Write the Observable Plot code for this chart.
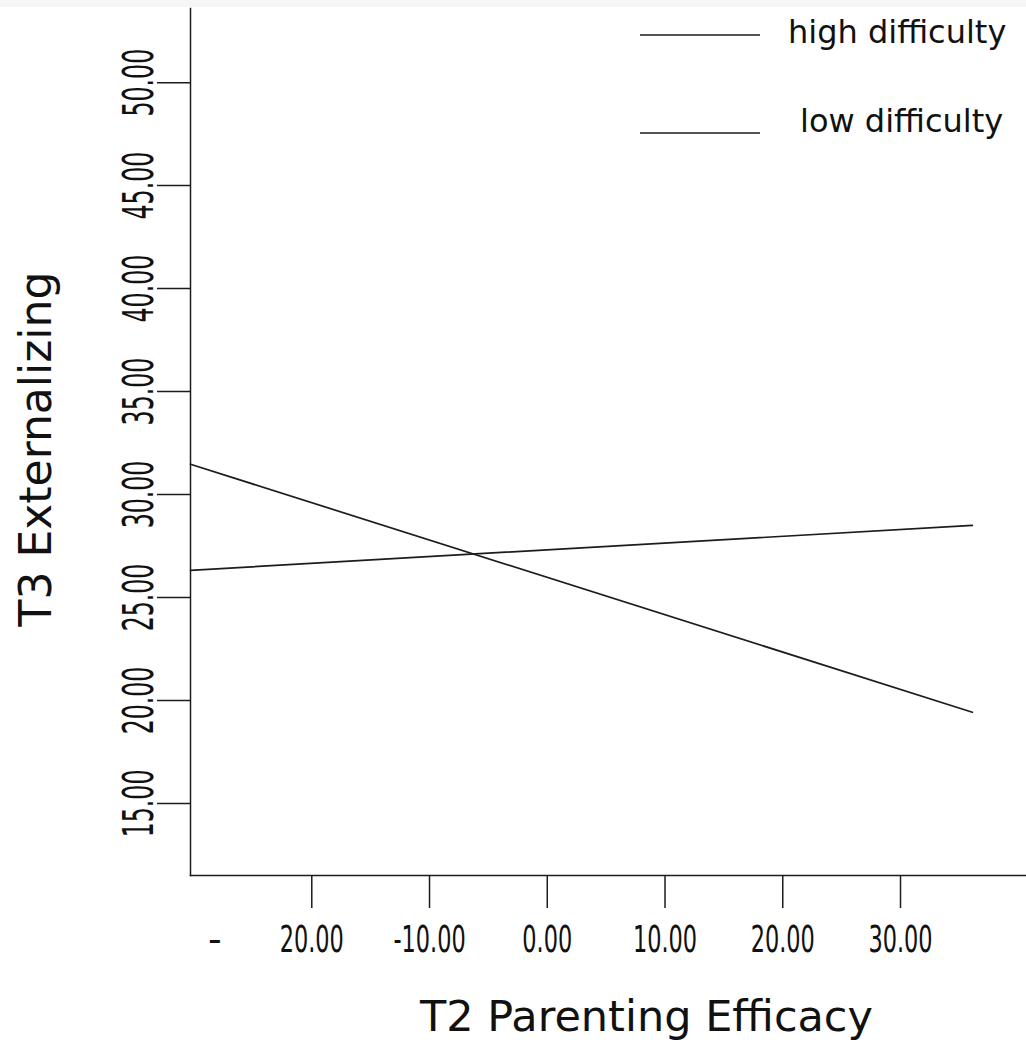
<!DOCTYPE html>
<html>
<head>
<meta charset="utf-8">
<script src="https://cdn.jsdelivr.net/npm/d3@7"></script>
<script src="https://cdn.jsdelivr.net/npm/@observablehq/plot@0.6"></script>
<style>
  html, body { margin: 0; padding: 0; background: #ffffff; }
  #topband { height: 7px; background: #f6f6f6; }
  #chart { position: relative; width: 1026px; }
</style>
</head>
<body>
<div id="topband"></div>
<div id="chart"></div>
<script>
// ---- data ----
const seriesNames = ["high difficulty", "low difficulty"];
const xValues = [-30.3, 36.1];              // T2 Parenting Efficacy (line endpoints)
const highDifficulty = [31.47, 19.43];      // T3 Externalizing
const lowDifficulty = [26.32, 28.50];
const xTicks = [-20, -10, 0, 10, 20, 30];
const yTicks = [15, 20, 25, 30, 35, 40, 45, 50];
const xTitle = "T2 Parenting Efficacy";
const yTitle = "T3 Externalizing";

const table = [];
[highDifficulty, lowDifficulty].forEach((vals, i) => {
  vals.forEach((v, j) => table.push({series: seriesNames[i], x: xValues[j], y: v}));
});

const ink = "#1c1c1c";

const plot = Plot.plot({
  width: 1026,
  height: 1035,
  marginTop: 1,
  marginLeft: 190,
  marginRight: 0,
  marginBottom: 167,
  style: {fontFamily: "DejaVu Sans", color: "#111", background: "white", overflow: "visible"},
  x: {domain: [-30.3, 40.7]},
  y: {domain: [11.5, 53.6]},
  marks: [
    Plot.frame({anchor: "left", stroke: ink, strokeWidth: 1.5}),
    Plot.frame({anchor: "bottom", stroke: ink, strokeWidth: 1.5}),
    Plot.axisY(yTicks, {
      tickSize: 33, tickPadding: 5, tickRotate: -90, fontSize: 43,
      strokeWidth: 1.5, stroke: ink, fill: "#111",
      tickFormat: d => d.toFixed(2), label: null
    }),
    Plot.axisX(xTicks, {
      tickSize: 33, tickPadding: 17, fontSize: 38,
      strokeWidth: 1.5, stroke: ink, fill: "#111",
      tickFormat: d => Math.abs(d) === 20 ? "20.00" : d.toFixed(2), label: null
    }),
    // detached minus sign of the -20 label
    Plot.text([xTicks[0]], {
      x: d => d, frameAnchor: "bottom", text: () => "-", fontSize: 38,
      lineAnchor: "top", dy: 50, dx: -97, fill: "#111"
    }),
    Plot.line(table, {x: "x", y: "y", z: "series", stroke: ink, strokeWidth: 1.7}),
    Plot.text([xTitle], {
      frameAnchor: "bottom", textAnchor: "middle", text: d => d, fontSize: 43,
      lineAnchor: "bottom", dy: 155, dx: 38, fill: "#111"
    }),
    Plot.text([yTitle], {
      frameAnchor: "left", textAnchor: "middle", text: d => d, fontSize: 44, rotate: -90,
      lineAnchor: "bottom", dx: -140, dy: 7, fill: "#111"
    })
  ]
});

document.getElementById("chart").appendChild(plot);

// condensed tick labels (narrow print style)
function squeeze(selector, ratio) {
  plot.querySelectorAll(selector).forEach(t => {
    const len = t.getComputedTextLength();
    if (len > 0) {
      t.setAttribute("textLength", (len * ratio).toFixed(1));
      t.setAttribute("lengthAdjust", "spacingAndGlyphs");
    }
  });
}
squeeze('g[aria-label="y-axis tick label"] text', 0.55);
squeeze('g[aria-label="x-axis tick label"] text', 0.59);

// legend inside the plot area, top right
const svg = d3.select(plot);
const legend = svg.append("g")
  .attr("font-family", "DejaVu Sans").attr("font-size", 32)
  .attr("text-anchor", "start").attr("fill", "#111");
const legendRows = [
  {name: seriesNames[0], lineY: 28, textX: 788, textY: 36},
  {name: seriesNames[1], lineY: 126, textX: 800, textY: 125}
];
legendRows.forEach(r => {
  legend.append("line")
    .attr("x1", 640).attr("x2", 760)
    .attr("y1", r.lineY).attr("y2", r.lineY)
    .attr("stroke", ink).attr("stroke-width", 1.6);
  legend.append("text").attr("x", r.textX).attr("y", r.textY).text(r.name);
});
</script>
</body>
</html>
